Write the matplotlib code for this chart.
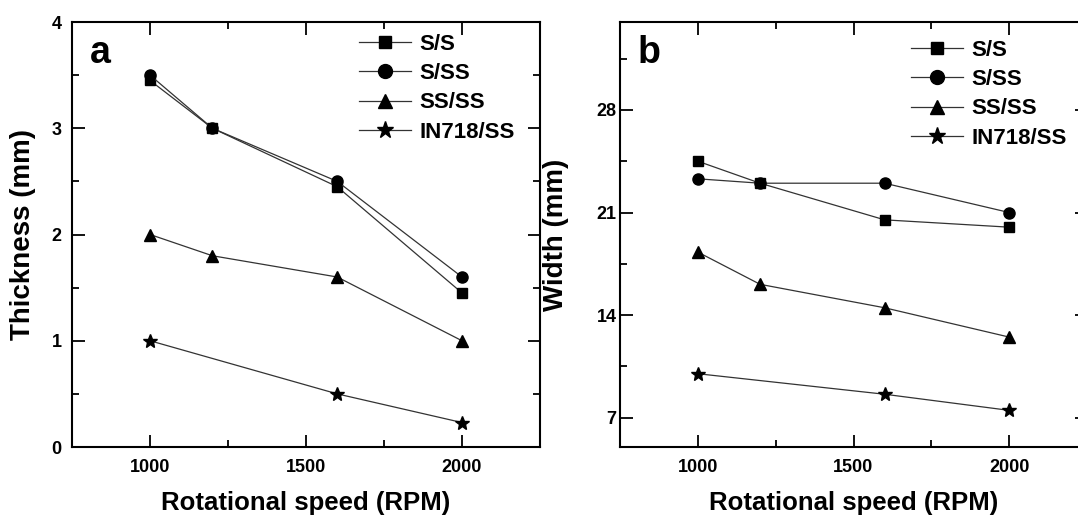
import matplotlib
matplotlib.use("Agg")
import matplotlib.pyplot as plt
from matplotlib.ticker import MultipleLocator

plt.rcParams['font.family'] = ['Liberation Sans', 'DejaVu Sans']
plt.rcParams['font.weight'] = 'bold'

# data
labels = ['S/S', 'S/SS', 'SS/SS', 'IN718/SS']
markers = ['s', 'o', '^', '*']
msizes = [7, 8, 8.5, 10]

rpm = [1000, 1200, 1600, 2000]
rpm_star = [1000, 1600, 2000]

thick_ss = [3.45, 3.0, 2.45, 1.45]
thick_sss = [3.5, 3.0, 2.5, 1.6]
thick_ssss = [2.0, 1.8, 1.6, 1.0]
thick_in = [1.0, 0.5, 0.23]

width_ss = [24.5, 23.0, 20.5, 20.0]
width_sss = [23.3, 23.0, 23.0, 21.0]
width_ssss = [18.3, 16.1, 14.5, 12.5]
width_in = [10.0, 8.6, 7.5]

fig = plt.figure(figsize=(10.78, 5.2), dpi=100)
ax1 = fig.add_axes([72/1078, 73/520, 468/1078, 425/520])
ax2 = fig.add_axes([620/1078, 73/520, 467/1078, 425/520])


def draw(ax, series, ylim, ymaj, ymin, ylabel, letter, leg_xy, ypad, ylab_x):
    for i, (xs, ys) in enumerate(series):
        ax.plot(xs, ys, color='#333333', lw=0.9, marker=markers[i],
                markersize=msizes[i], markerfacecolor='black',
                markeredgecolor='black', label=labels[i])
    ax.set_xlim(750, 2250)
    ax.set_ylim(*ylim)
    ax.xaxis.set_major_locator(MultipleLocator(500))
    ax.xaxis.set_minor_locator(MultipleLocator(250))
    ax.yaxis.set_major_locator(MultipleLocator(ymaj))
    ax.yaxis.set_minor_locator(MultipleLocator(ymin))
    ax.tick_params(which='both', direction='in', top=True, right=True, width=1.3)
    ax.tick_params(which='major', length=9)
    ax.tick_params(which='minor', length=5)
    ax.tick_params(axis='x', which='major', pad=9, labelsize=13)
    ax.tick_params(axis='y', which='major', pad=ypad, labelsize=13)
    for lab in ax.get_xticklabels() + ax.get_yticklabels():
        lab.set_fontweight('bold')
    for s in ax.spines.values():
        s.set_linewidth(1.5)
    ax.set_xlabel('Rotational speed (RPM)', fontsize=18.5, fontweight='bold')
    ax.set_ylabel(ylabel, fontsize=20, fontweight='bold')
    ax.xaxis.set_label_coords(0.5, -0.103)
    ax.yaxis.set_label_coords(ylab_x, 0.5)
    ax.text(0.038, 0.903, letter, transform=ax.transAxes, fontsize=27,
            fontweight='bold', va='baseline')
    ax.legend(loc='upper left', bbox_to_anchor=leg_xy, frameon=False,
              handlelength=2.35, handletextpad=0.36,
              labelspacing=0.37, borderpad=0, borderaxespad=0, markerscale=1.25,
              prop={'weight': 'bold', 'size': 16})


draw(ax1, [(rpm, thick_ss), (rpm, thick_sss), (rpm, thick_ssss), (rpm_star, thick_in)],
     (0, 4), 1, 0.5, 'Thickness (mm)', 'a', (0.613, 0.972), 7.5, -0.076)
draw(ax2, [(rpm, width_ss), (rpm, width_sss), (rpm, width_ssss), (rpm_star, width_in)],
     (5, 34), 7, 3.5, 'Width (mm)', 'b', (0.623, 0.958), 2.5, -0.11)

fig.savefig('out.png', dpi=100)
